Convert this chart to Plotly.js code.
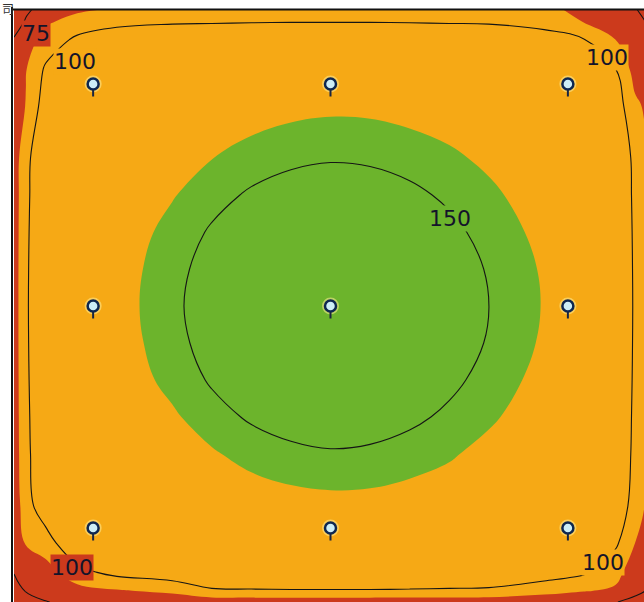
<!DOCTYPE html>
<html><head><meta charset="utf-8">
<script src="https://cdn.plot.ly/plotly-3.0.1.min.js"></script>
<style>html,body{margin:0;padding:0;background:#fff;overflow:hidden;width:644px;height:602px}</style>
</head><body><div id="chart" style="width:647px;height:602px"></div>
<script>
// Grid node positions (m) across the room, x left->right, y top->bottom
const gridX = [0, 0.15, 0.4, 0.8, 1.3, 2, 2.5, 3, 3.5, 4, 4.5, 5, 5.5, 6, 6.7, 7.2, 7.6, 7.85, 8];
const gridY = [0, 0.15, 0.4, 0.8, 1.3, 2, 2.5, 3, 3.5, 4, 4.5, 5, 5.5, 6, 6.7, 7.2, 7.6, 7.85, 8];

// Illuminance (lx) estimated at each grid node, rows = gridY, columns = gridX
const illuminance = [
  [65, 73, 80, 88.4, 91.6, 93.2, 93.6, 93.8, 94.0, 94.0, 94.0, 93.8, 93.6, 93.2, 91.6, 88.4, 83.5, 76.3, 69.5],
  [68, 76, 88.1, 93.7, 97.1, 98.6, 98.9, 99.2, 99.4, 99.4, 99.4, 99.2, 98.9, 98.6, 95, 89.5, 88.6, 80.8, 73.9],
  [76, 85, 94, 102.0, 105.8, 107.1, 107.5, 107.8, 107.9, 108.0, 107.9, 107.8, 107.5, 107.1, 105.8, 100.4, 90, 82, 80.5],
  [79.6, 89.5, 101.5, 108.2, 111.6, 113.0, 113.5, 114.2, 114.8, 114.9, 114.8, 114.2, 113.5, 113.0, 111.6, 108.2, 100.4, 86, 85.2],
  [82.6, 90.5, 105.3, 111.5, 114.9, 115.4, 115.4, 117.5, 122.8, 125.3, 124.6, 120.8, 115.4, 115.4, 114.9, 111.5, 105.9, 92, 88.3],
  [84.0, 98.0, 106.5, 113.0, 115.4, 117.7, 129.5, 139.4, 145.8, 148.4, 147.0, 142.2, 134.9, 124.5, 115.4, 113.0, 107.1, 98.0, 89.7],
  [84.3, 98.3, 106.9, 113.5, 115.4, 128.3, 142.4, 153.1, 159.1, 161.4, 160.0, 154.9, 146.3, 135.5, 115.6, 113.5, 107.5, 98.3, 90.1],
  [84.5, 98.6, 107.2, 114.2, 115.4, 137.4, 152.7, 162.3, 168.3, 170.6, 169.2, 164.1, 155.3, 143.3, 122.8, 114.2, 107.8, 98.6, 90.3],
  [84.7, 98.8, 107.4, 114.8, 117.9, 143.6, 158.2, 167.9, 173.8, 176.1, 174.7, 169.6, 160.9, 148.4, 127.3, 114.8, 107.9, 98.8, 90.5],
  [84.7, 98.9, 107.5, 114.9, 119.1, 145.75, 160.1, 169.7, 175.7, 178.0, 176.6, 171.5, 162.7, 150.3, 128.6, 114.9, 108.0, 98.9, 90.5],
  [84.7, 98.8, 107.4, 114.8, 117.4, 143.4, 158.2, 167.9, 173.8, 176.1, 174.7, 169.6, 160.9, 148.4, 126.7, 114.8, 107.9, 98.8, 90.5],
  [84.5, 98.6, 107.2, 114.2, 115.4, 136.7, 152.7, 162.3, 168.3, 170.6, 169.2, 164.1, 155.3, 142.7, 121.7, 114.2, 107.8, 98.6, 90.3],
  [84.3, 98.3, 106.9, 113.5, 115.4, 126.5, 141.6, 153.1, 159.1, 161.4, 160.0, 154.9, 145.8, 133.9, 115.4, 113.5, 107.5, 98.3, 90.1],
  [84.0, 98.0, 106.5, 113.0, 115.4, 116, 127.3, 138.0, 145.2, 148.1, 146.5, 141.0, 132.8, 122.3, 115.4, 113.0, 107.1, 98.0, 89.7],
  [82.6, 96.6, 105.3, 111.5, 114.9, 115.4, 115.4, 115.4, 119.9, 122.2, 121.6, 117.9, 115.4, 115.4, 114.9, 111.5, 105.9, 96.6, 88.3],
  [79.6, 91, 96, 108.2, 111.6, 113.0, 113.5, 114.2, 114.8, 114.9, 114.8, 114.2, 113.5, 113.0, 111.6, 108.2, 102.0, 90, 85.2],
  [76, 82, 85, 97, 103, 106.5, 106.9, 107.2, 107.4, 107.5, 107.4, 107.2, 106.9, 106.5, 105.2, 101.5, 93, 85, 80.0],
  [64, 76, 80, 86, 89, 92, 98.9, 99.2, 99.4, 99.4, 99.4, 99.2, 98.9, 98.6, 94, 90.5, 88.6, 80.8, 73.9],
  [56, 68.3, 74.4, 79.1, 82.0, 83.4, 83.7, 84.0, 84.1, 84.1, 84.1, 84.0, 83.7, 83.4, 82.0, 79.1, 76, 68.3, 62.2]
];

// Luminaire positions (m)
const lumX = [1, 4, 7, 1, 4, 7, 1, 4, 7];
const lumY = [1, 1, 1, 4, 4, 4, 7, 7, 7];

// Contour labels
const labelText = ['75', '100', '100', '100', '100', '150'];
const labelX = [0.28, 0.77, 7.5, 0.73, 7.45, 5.51];
const labelY = [0.32, 0.70, 0.64, 7.54, 7.46, 2.82];

// ---- styling ----
const RED = '#cc3a1c', ORANGE = '#f6a915', GREEN = '#6cb42c';
const labelBg = [RED, ORANGE, ORANGE, RED, ORANGE, GREEN];

const fillTrace = {
  type: 'contour', x: gridX, y: gridY, z: illuminance,
  autocontour: false,
  contours: {coloring: 'fill', showlines: false, start: 90, end: 130, size: 40},
  colorscale: [[0, RED], [0.34, RED], [0.34, ORANGE], [0.66, ORANGE], [0.66, GREEN], [1, GREEN]],
  showscale: false, line: {width: 0, smoothing: 1.1}, hoverinfo: 'skip'
};
const lineTraceA = {
  type: 'contour', x: gridX, y: gridY, z: illuminance,
  autocontour: false,
  contours: {coloring: 'lines', start: 50, end: 150, size: 50},
  colorscale: [[0, '#151515'], [1, '#151515']],
  showscale: false, line: {width: 1.1, smoothing: 1.1}, hoverinfo: 'skip'
};
const lineTraceB = {
  type: 'contour', x: gridX, y: gridY, z: illuminance,
  autocontour: false,
  contours: {coloring: 'lines', start: 75, end: 75.5, size: 10},
  colorscale: [[0, '#151515'], [1, '#151515']],
  showscale: false, line: {width: 1.1, smoothing: 1.1}, hoverinfo: 'skip'
};
const haloTrace = {
  type: 'scatter', mode: 'markers', x: lumX, y: lumY,
  marker: {size: 17, color: 'rgba(255,236,150,0.55)', line: {width: 0}},
  hoverinfo: 'skip'
};
const lumTrace = {
  type: 'scatter', mode: 'markers', x: lumX, y: lumY,
  marker: {size: 11, color: '#cdeef6', line: {color: '#0e2750', width: 2.5}},
  hoverinfo: 'skip'
};

const annotations = [];
lumX.forEach((x, i) => annotations.push({
  x: x, y: lumY[i], xref: 'x', yref: 'y', text: '', showarrow: true,
  arrowhead: 0, arrowwidth: 2, arrowcolor: '#1a2540', ax: 0, ay: 14, standoff: 6
}));
labelText.forEach((t, i) => annotations.push({
  x: labelX[i], y: labelY[i], xref: 'x', yref: 'y', text: t, showarrow: false,
  font: {family: 'DejaVu Sans', size: 22, color: '#14142a'},
  bgcolor: labelBg[i], borderpad: 0
}));
annotations.push({
  x: -14 / 633, y: 1 + 1 / 592, xref: 'paper', yref: 'paper', text: '司', showarrow: false,
  xanchor: 'left', yanchor: 'middle',
  font: {family: 'Noto Sans CJK SC', size: 12, color: '#333'}
});

const layout = {
  width: 647, height: 602,
  margin: {l: 14, r: 0, t: 10, b: 0, pad: 0},
  paper_bgcolor: '#ffffff', plot_bgcolor: ORANGE,
  showlegend: false,
  xaxis: {range: [0, 8], visible: false, fixedrange: true},
  yaxis: {range: [8, 0], visible: false, fixedrange: true},
  annotations: annotations,
  shapes: [
    {type: 'line', xref: 'paper', yref: 'paper', x0: -2 / 633, x1: -2 / 633, y0: 0, y1: 1.005, line: {color: '#111', width: 2}},
    {type: 'line', xref: 'paper', yref: 'paper', x0: -2 / 633, x1: 1, y0: 1.001, y1: 1.001, line: {color: '#111', width: 2}}
  ]
};

Plotly.newPlot('chart', [fillTrace, lineTraceA, lineTraceB, haloTrace, lumTrace], layout, {staticPlot: true, displayModeBar: false});
</script></body></html>
